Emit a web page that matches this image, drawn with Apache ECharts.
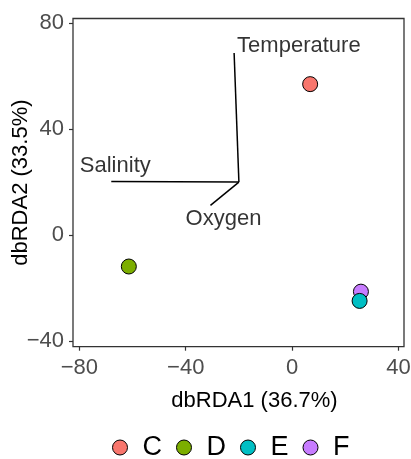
<!DOCTYPE html>
<html>
<head>
<meta charset="utf-8">
<script src="https://cdn.jsdelivr.net/npm/echarts@6/dist/echarts.min.js"></script>
<style>
html,body{margin:0;padding:0;background:#fff;}
#chart{width:411px;height:459px;}
</style>
</head>
<body>
<div id="chart"></div>
<script>
// ---- data ----
var categories = ['C', 'D', 'E', 'F'];
var sampleX = [6.8, -61.4, 25.4, 25.9];
var sampleY = [57.0, -11.9, -24.9, -21.4];
var colors = ['#F8766D', '#7CAE00', '#00BFC4', '#C77CFF'];

var envNames = ['Temperature', 'Salinity', 'Oxygen'];
var envOrigin = [-20, 20];
var envX = [-21.8, -68.0, -30.7];
var envY = [68.8, 20.2, 11.2];

var xTicks = [-80, -40, 0, 40];
var yTicks = [-40, 0, 40, 80];
var xTitle = 'dbRDA1 (36.7%)';
var yTitle = 'dbRDA2 (33.5%)';

var FONT = 'Liberation Sans, Arial, Helvetica, sans-serif';
function minusFmt(v) { return String(v).replace('-', '\u2212'); }

var series = [];
// sample points (E drawn last so it sits on top of F)
var drawOrder = [0, 1, 3, 2];
drawOrder.forEach(function (i, k) {
  series.push({
    name: categories[i],
    type: 'scatter',
    data: [[sampleX[i], sampleY[i]]],
    symbol: 'circle',
    symbolSize: 15,
    z: 5 + k,
    itemStyle: { color: colors[i], borderColor: '#000', borderWidth: 1, opacity: 1 },
    emphasis: { disabled: true }
  });
});

// environmental vectors
var labelCfg = [
  { position: [3, -7], align: 'left' },
  { position: [4, -16], align: 'center' },
  { position: [13, 14], align: 'center' }
];
envNames.forEach(function (n, i) {
  series.push({
    name: 'vec_' + n,
    type: 'line',
    data: [envOrigin, [envX[i], envY[i]]],
    showSymbol: false,
    symbol: 'none',
    lineStyle: { color: '#000', width: 1.5 },
    z: 3,
    silent: true
  });
  series.push({
    name: 'lab_' + n,
    type: 'scatter',
    data: [[envX[i], envY[i]]],
    symbolSize: 0,
    silent: true,
    z: 4,
    label: {
      show: true,
      formatter: n,
      position: labelCfg[i].position,
      align: labelCfg[i].align,
      verticalAlign: 'middle',
      color: '#000',
      fontSize: 22,
      fontFamily: FONT
    }
  });
});

var chart = echarts.init(document.getElementById('chart'), null, { renderer: 'canvas' });
chart.setOption({
  animation: false,
  backgroundColor: '#fff',
  grid: {
    left: 73, right: 7, top: 18.5, bottom: 112.3,
    outerBoundsMode: 'none',
    containLabel: false,
    show: true, borderColor: '#333', borderWidth: 1.3, backgroundColor: 'transparent'
  },
  legend: {
    data: categories,
    left: 107, top: 429,
    icon: 'circle',
    itemWidth: 15, itemHeight: 15,
    itemGap: 14,
    itemStyle: { borderColor: '#000', borderWidth: 1 },
    textStyle: { fontSize: 27, color: '#000', fontFamily: FONT, padding: [0, 0, 0, 10] },
    selectedMode: false
  },
  xAxis: {
    type: 'value',
    min: -82.4, max: 42.1,
    splitLine: { show: false },
    axisLine: { show: false, onZero: false },
    axisTick: { show: true, inside: false, customValues: xTicks, length: 4, lineStyle: { color: '#333', width: 1.2 } },
    axisLabel: { customValues: xTicks, formatter: minusFmt, color: '#4D4D4D', fontSize: 22, fontFamily: FONT, margin: 10 },
    name: xTitle,
    nameLocation: 'middle',
    nameGap: 43,
    nameMoveOverlap: false,
    nameTextStyle: { color: '#000', fontSize: 22, fontFamily: FONT, padding: [0, 0, 0, 32] }
  },
  yAxis: {
    type: 'value',
    min: -42.2, max: 81.8,
    splitLine: { show: false },
    axisLine: { show: false, onZero: false },
    axisTick: { show: true, inside: false, customValues: yTicks, length: 4, lineStyle: { color: '#333', width: 1.2 } },
    axisLabel: { customValues: yTicks, formatter: minusFmt, color: '#4D4D4D', fontSize: 22, fontFamily: FONT, margin: 9 },
    name: yTitle,
    nameLocation: 'middle',
    nameGap: 41,
    nameRotate: 90,
    nameMoveOverlap: false,
    nameTextStyle: { color: '#000', fontSize: 22, fontFamily: FONT }
  },
  series: series
});
</script>
</body>
</html>
